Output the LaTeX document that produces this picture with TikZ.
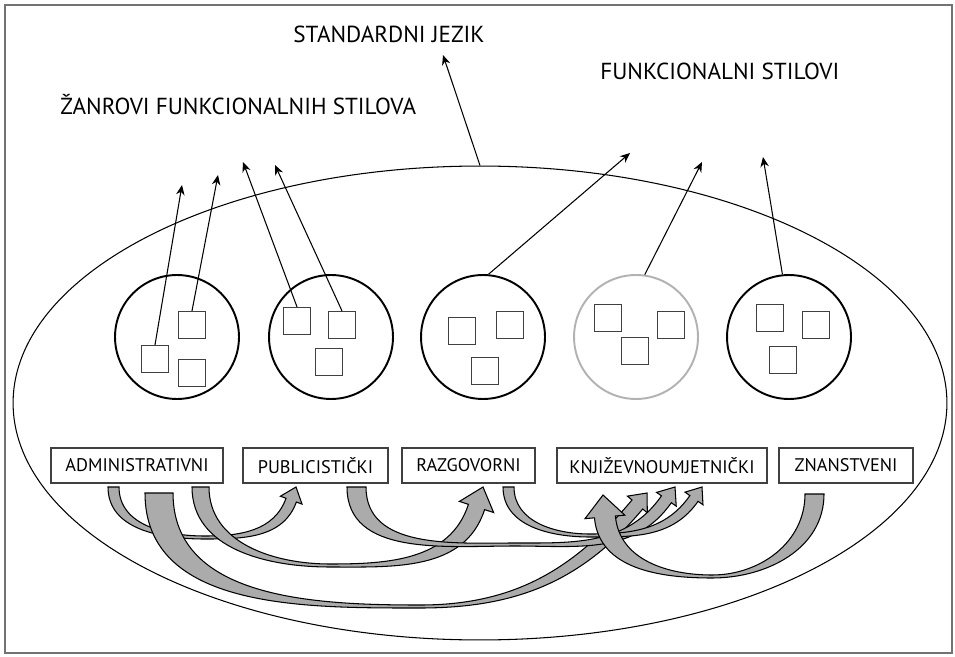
\documentclass[tikz,border=0pt]{standalone}
\usepackage{fontspec}
\setmainfont{PT Sans}
\usetikzlibrary{arrows.meta,shapes.geometric}

% curved broad arrow: tail outer, tail inner, lowest point, tip, head angle,
% shaft width, head width, head length, run direction (0 = to the right, 180 = to the left)
\newcommand{\fatarrow}[9]{%
  \pgfmathsetmacro\fain{#9+180}%
  \pgfmathsetmacro\faback{#5+180}%
  \path (#4) ++(\faback:#8) coordinate (fa-c);
  \path (fa-c) ++(#5-90:#6/2) coordinate (fa-ho)
        (fa-c) ++(#5+90:#6/2) coordinate (fa-hi)
        (fa-c) ++(#5-90:#7/2) coordinate (fa-wo)
        (fa-c) ++(#5+90:#7/2) coordinate (fa-wi)
        (#3) ++(0,3) coordinate (fa-bi);
  \draw[fatarr] (#1) to[out=-90,in=\fain] (#3) to[out=#9,in=\faback] (fa-ho)
     -- (fa-wo) -- (#4) -- (fa-wi) -- (fa-hi)
     to[out=\faback,in=#9] (fa-bi) to[out=\fain,in=-90] (#2) -- cycle;
}

\begin{document}
\begin{tikzpicture}[
    x=0.02cm, y=0.02cm,
    every node/.style={font=\fontsize{10.4}{12}\selectfont},
    ttl/.style={font=\fontsize{13.2}{15}\selectfont, anchor=base west, inner sep=0},
    grp/.style={circle, draw, line width=1.1pt, minimum size=2.48cm, inner sep=0},
    sq/.style={draw=black!75, line width=0.7pt, minimum size=0.54cm, inner sep=0},
    stl/.style={draw=black!75, line width=0.7pt, minimum height=0.7cm, inner sep=0},
    link/.style={line width=0.6pt, -{Stealth[length=2mm,width=1.7mm]}},
    fatarr/.style={draw=black, fill=black!33, line width=0.6pt},
]
\useasboundingbox (0,0) rectangle (955,656);
\draw[black!55, line width=0.8pt] (5,3) rectangle (952,651);

% ── Standardni jezik ──
\node[ellipse, draw, line width=0.6pt, minimum width=18.68cm, minimum height=9.48cm, inner sep=0] (ell) at (480,253) {};

% ── Naslovi ──
\node[ttl] (tstd) at (293,613) {STANDARDNI JEZIK};
\node[ttl] (tzan) at (60,541) {ŽANROVI FUNKCIONALNIH STILOVA};
\node[ttl] (tfun) at (600,576) {FUNKCIONALNI STILOVI};

% ── Funkcionalni stilovi s žanrovima ──
\node[grp] (c1) at (177,319) {};
\node[grp] (c2) at (331,319) {};
\node[grp] (c3) at (483,319) {};
\node[grp, draw=black!30] (c4) at (636,319) {};
\node[grp] (c5) at (789,319) {};

\node[sq] (s11) at (155,297) {};
\node[sq] (s12) at (192,331) {};
\node[sq] (s13) at (192,283) {};
\node[sq] (s21) at (297,335) {};
\node[sq] (s22) at (342,331) {};
\node[sq] (s23) at (329,294) {};
\node[sq] (s31) at (462,325) {};
\node[sq] (s32) at (510,331) {};
\node[sq] (s33) at (485,285) {};
\node[sq] (s41) at (608,338) {};
\node[sq] (s42) at (671,331) {};
\node[sq] (s43) at (635,305) {};
\node[sq] (s51) at (770,338) {};
\node[sq] (s52) at (816,331) {};
\node[sq] (s53) at (783,296) {};

% ── Nazivi stilova ──
\node[stl, minimum width=3.44cm] (adm) at (137,190.5) {ADMINISTRATIVNI};
\node[stl, minimum width=2.90cm] (pub) at (315.5,190.5) {PUBLICISTIČKI};
\node[stl, minimum width=2.66cm] (raz) at (468.5,190.5) {RAZGOVORNI};
\node[stl, minimum width=4.20cm] (knj) at (662,190.5) {KNJIŽEVNOUMJETNIČKI};
\node[stl, minimum width=2.68cm] (zna) at (846,190.5) {ZNANSTVENI};

% ── Strelice prema naslovima ──
\coordinate (t11) at (182,471);
\coordinate (t12) at (218,481);
\coordinate (t21) at (243,494);
\coordinate (t22) at (275,491);
\coordinate (t3) at (630,503);
\coordinate (t4) at (702,494);
\coordinate (t5) at (763,499);
\coordinate (tj) at (443,601);
\draw[link] (s11.north) -- (t11);
\draw[link] (s12.north) -- (t12);
\draw[link] (s21.north) -- (t21);
\draw[link] (s22.north) -- (t22);
\draw[link] (c3.85) -- (t3);
\draw[link] (c4.82) -- (t4);
\draw[link] (c5.96) -- (t5);
\draw[link] (ell.north) -- (tj);

% ── Prožimanje stilova ──
\fatarrow{108,169}{119,169}{205,117}{296,169}{70}{11}{23}{14}{0}
\fatarrow{145,163}{173,163}{420,48}{647,163}{50}{14}{26}{15}{0}
\fatarrow{192,169}{209,169}{330,89}{483,169}{72}{17}{36}{21}{0}
\fatarrow{347,169}{366,169}{515,110}{675,169}{55}{12}{24}{15}{0}
\fatarrow{503,169}{514,169}{590,119}{702,169}{55}{10}{22}{14}{0}
\fatarrow{824,162}{805,162}{712,78}{603,161}{95}{-21}{-40}{22}{180}
\end{tikzpicture}
\end{document}
